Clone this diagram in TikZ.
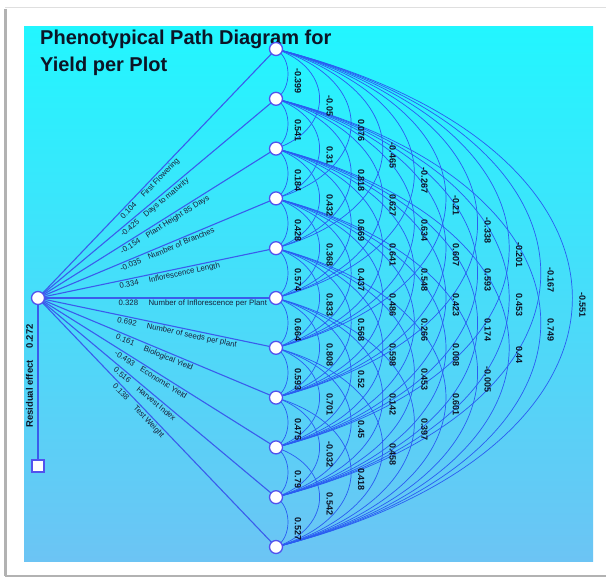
\documentclass[tikz,border=0pt]{standalone}
\usepackage{fontspec}
\setmainfont{Liberation Sans}
\usetikzlibrary{backgrounds}
\definecolor{bgtop}{HTML}{22F6FF}
\definecolor{bgmid}{HTML}{44D8FC}
\definecolor{bgbot}{HTML}{6CC4F4}
\definecolor{lineblue}{HTML}{3A5CEC}
\definecolor{arcblue}{HTML}{2A5CF2}
\definecolor{nodeblue}{HTML}{5252EE}
\definecolor{darktext}{HTML}{0C1426}
\definecolor{labtext}{HTML}{18203A}
\begin{document}
\begin{tikzpicture}[x=1pt,y=-1pt,
  pathline/.style={draw=lineblue, line width=1.1pt},
  corrarc/.style={draw=arcblue, line width=0.7pt},
  varnode/.style={circle, draw=nodeblue, fill=white, line width=1.3pt, minimum size=13pt, inner sep=0pt},
  resnode/.style={rectangle, draw=nodeblue, fill=white, line width=1.3pt, minimum size=12pt, inner sep=0pt},
  pathlabel/.style={font=\fontsize{7.8}{9}\selectfont, text=labtext, sloped, anchor=north west, inner sep=1.5pt},
  corrlabel/.style={font=\bfseries\fontsize{9}{10}\selectfont, text=darktext, rotate=-90, inner sep=0pt},
  titletext/.style={font=\bfseries\fontsize{20}{24}\selectfont, text=darktext, anchor=base west, inner sep=0pt},
  reslabel/.style={font=\bfseries\fontsize{9.5}{11}\selectfont, text=darktext, rotate=90, inner sep=0pt}
]
\useasboundingbox (0,0) rectangle (606,578);
\begin{scope}[on background layer]
  \fill[white] (0,0) rectangle (606,578);
  \draw[gray!25, line width=1pt] (5,8) -- (606,8);
  \draw[gray!60, line width=2.5pt] (5.5,9) -- (5.5,576);
  \draw[gray!60, line width=2.5pt] (5,576) -- (606,576);
  \shade[top color=bgtop, middle color=bgmid, bottom color=bgbot] (24,27) rectangle (593,561);
\end{scope}

% title
\node[titletext] (t1) at (40,45) {Phenotypical Path Diagram for};
\node[titletext] (t2) at (40,72) {Yield per Plot};

% nodes
\node[varnode] (L) at (38,298) {};
\node[resnode] (R) at (38,466) {};
\foreach \k in {0,...,10} {
  \node[varnode] (r\k) at (276,{49+49.8*\k}) {};
}

% residual
\node[reslabel] (rl) at (29.5,376) {Residual effect\hspace{12pt}0.272};

\begin{scope}[on background layer]
  \draw[pathline] (L.center) -- (R.center);
  \foreach \k/\v/\n in {0/0.104/First Flowering, 1/-0.425/Days to maturity,
      2/-0.154/Plant Height 85 Days, 3/-0.035/Number of Branches,
      4/0.334/Inflorescence Length, 5/0.328/Number of Inflorescence per Plant,
      6/0.692/Number of seeds per plant, 7/0.161/Biological Yield,
      8/-0.493/Economic Yield, 9/0.516/Harvest Index, 10/0.138/Test Weight} {
    \draw[pathline] (L.center) -- (r\k.center)
      node[pathlabel, pos=0.33] (pl\k) {\makebox[30pt][l]{\v}\n};
  }
  \foreach \d in {1,...,10} {
    \pgfmathsetmacro\cc{4/3*(12+31.6*(\d-1))}
    \pgfmathsetmacro\kk{49.8*\d/5}
    \pgfmathtruncatemacro\imax{10-\d}
    \foreach \i in {0,...,\imax} {
      \pgfmathtruncatemacro\j{\i+\d}
      \draw[corrarc] (r\i.center) .. controls +(\cc,\kk) and +(\cc,-\kk) .. (r\j.center);
    }
  }
\end{scope}

% correlation labels
\foreach \d/\vals in {
  1/{-0.399,0.541,0.184,0.428,0.574,0.664,0.593,0.475,0.79,0.527},
  2/{-0.05,0.31,0.432,0.368,0.833,0.808,0.701,-0.032,0.542},
  3/{0.076,0.818,0.669,0.437,0.568,0.52,0.45,0.418},
  4/{-0.465,0.627,0.641,0.486,0.598,0.142,0.458},
  5/{-0.267,0.634,0.548,0.266,0.453,0.397},
  6/{-0.21,0.607,0.423,0.008,0.601},
  7/{-0.338,0.593,0.174,-0.005},
  8/{-0.201,0.453,0.44},
  9/{-0.167,0.749},
  10/{-0.551}} {
  \pgfmathsetmacro\lx{276+12+31.6*(\d-1)+10}
  \foreach \v [count=\c from 0] in \vals {
    \node[corrlabel] (c\d-\c) at (\lx,{49+49.8*(\c+\d/2)+7}) {\v};
  }
}
\end{tikzpicture}
\end{document}
